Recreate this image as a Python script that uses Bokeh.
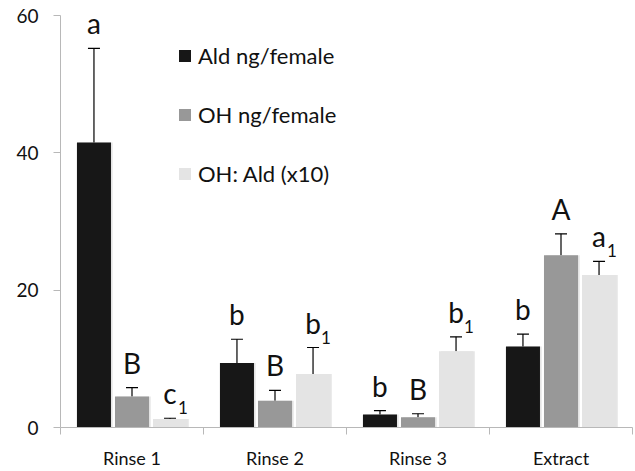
from bokeh.plotting import figure
from bokeh.models import (Range1d, FixedTicker, ColumnDataSource, Whisker, TeeHead,
                          Legend, LegendItem)
from bokeh.core.properties import value
from bokeh.embed import file_html
from bokeh.resources import INLINE

# --- data -------------------------------------------------------------
categories = ["Rinse 1", "Rinse 2", "Rinse 3", "Extract"]
series_names = ["Ald ng/female", "OH ng/female", "OH: Ald (x10)"]

ald = [41.5, 9.4, 1.9, 11.8]
ald_err = [13.7, 3.45, 0.55, 1.8]
oh = [4.5, 3.9, 1.5, 25.1]
oh_err = [1.3, 1.5, 0.5, 3.1]
ratio = [1.25, 7.8, 11.1, 22.2]
ratio_err = [0.1, 3.85, 2.1, 2.0]

ald_letters = ["a", "b", "b", "b"]
oh_letters = ["B", "B", "B", "A"]
ratio_letters = ["c", "b", "b", "a"]
ratio_subscripts = ["1", "1", "1", "1"]

y_ticks = [0, 20, 40, 60]

# --- styling ----------------------------------------------------------
FONT = "Lato"
colors = ["#171717", "#989898", "#e4e4e4"]
offsets = [-0.266, 0.0, 0.266]
BAR_W = 0.238
AXIS_GRAY = "#b8b8b8"

p = figure(width=635, height=471, x_range=Range1d(0, len(categories)),
           y_range=Range1d(0, 60), output_backend="svg", toolbar_location=None,
           min_border_left=60, min_border_right=3, min_border_top=15,
           min_border_bottom=39)
p.outline_line_color = None
p.grid.visible = False
p.background_fill_color = "white"
p.border_fill_color = "white"

centers = [i + 0.5 for i in range(len(categories))]

series = [(ald, ald_err, ald_letters, None),
          (oh, oh_err, oh_letters, None),
          (ratio, ratio_err, ratio_letters, ratio_subscripts)]

legend_items = []
for k, (vals, errs, letters, subs) in enumerate(series):
    xs = [c + offsets[k] for c in centers]
    src = ColumnDataSource(dict(
        x=xs,
        xs=[x + 0.012 for x in xs],
        top=vals,
        upper=[v + e for v, e in zip(vals, errs)],
        letter=letters,
        sub=subs if subs else [""] * len(vals),
    ))
    # soft drop shadow
    p.vbar(x="xs", top="top", width=BAR_W, bottom=-0.25, source=src,
           fill_color="black", fill_alpha=0.10, line_color=None)
    r = p.vbar(x="x", top="top", width=BAR_W, source=src,
               fill_color=colors[k], line_color=None)
    legend_items.append(LegendItem(label=series_names[k], renderers=[r]))

    p.add_layout(Whisker(source=src, base="x", lower="top", upper="upper",
                         dimension="height", line_color="black", line_width=1.2,
                         upper_head=TeeHead(size=12, line_color="black", line_width=1.2),
                         lower_head=None))

    # significance letters above the error bars
    p.text(x="x", y="upper", text="letter", source=src,
           text_align="center", text_baseline="bottom", y_offset=-8,
           text_font=value(FONT), text_font_size="28px", text_color="#111111")
    if subs:
        p.text(x="x", y="upper", text="sub", source=src,
               text_align="left", text_baseline="bottom", x_offset=8, y_offset=-4,
               text_font=value(FONT), text_font_size="17px", text_color="#111111")

# --- axes -------------------------------------------------------------
xa = p.xaxis[0]
xa.ticker = FixedTicker(ticks=centers, minor_ticks=list(range(len(categories) + 1)))
xa.major_label_overrides = {c: name for c, name in zip(centers, categories)}
xa.major_tick_out = 0
xa.major_tick_in = 0
xa.minor_tick_out = 7
xa.minor_tick_in = 0
xa.minor_tick_line_color = AXIS_GRAY
xa.axis_line_color = AXIS_GRAY
xa.major_label_standoff = 12
xa.major_label_text_font = FONT
xa.major_label_text_font_size = "18px"
xa.major_label_text_color = "#111111"

ya = p.yaxis[0]
ya.ticker = FixedTicker(ticks=y_ticks, minor_ticks=[])
ya.major_tick_out = 7
ya.major_tick_in = 0
ya.major_tick_line_color = AXIS_GRAY
ya.axis_line_color = AXIS_GRAY
ya.major_label_standoff = 15
ya.major_label_text_font = FONT
ya.major_label_text_font_size = "19px"
ya.major_label_text_color = "#111111"

# --- legend -----------------------------------------------------------
legend = Legend(items=legend_items, location=(117, 240), orientation="vertical",
                glyph_width=15, glyph_height=15, label_height=25,
                spacing=32, padding=0, margin=0, label_standoff=6,
                label_text_font=FONT, label_text_font_size="22px",
                label_text_color="#111111",
                border_line_color=None, background_fill_alpha=0)
p.add_layout(legend)

open("out.html", "w").write(file_html(p, INLINE))
